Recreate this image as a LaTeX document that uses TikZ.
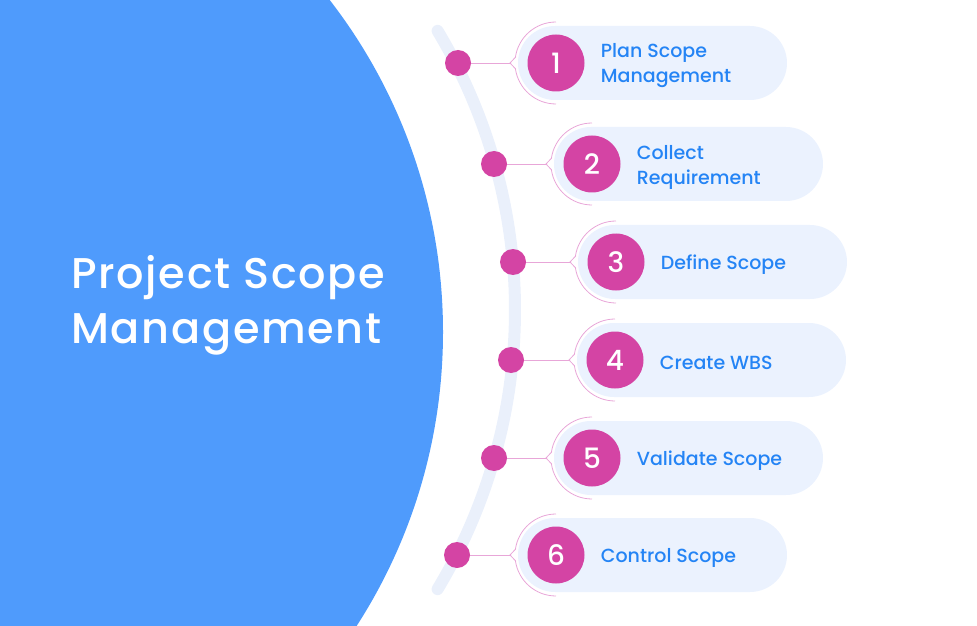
\documentclass[tikz,border=0pt]{standalone}
\usepackage{fontspec}
\setmainfont{Poppins Medium}
\usetikzlibrary{positioning}
\definecolor{scopeblue}{HTML}{4F9BFC}
\definecolor{stepmag}{HTML}{D444A4}
\definecolor{steptext}{HTML}{2484F5}
\definecolor{pillfill}{HTML}{EBF2FE}
\definecolor{trackfill}{HTML}{EAF0FB}
\definecolor{braceline}{HTML}{E8A6D8}

\begin{document}
\begin{tikzpicture}[
    x=1pt, y=1pt,
    dot/.style={circle, fill=stepmag, minimum size=26pt, inner sep=0pt},
    numbox/.style={circle, fill=stepmag, minimum size=57pt, inner sep=0pt, text=white, font=\fontsize{28}{28}\selectfont},
    steplabel/.style={text=steptext, align=left, inner sep=0pt, font=\fontsize{19}{25}\selectfont},
    pill/.style={fill=pillfill, rounded corners=37pt},
    brace/.style={draw=braceline, line width=0.8pt},
    link/.style={draw=braceline, line width=0.8pt},
    track/.style={draw=trackfill, line width=12pt, line cap=round}
  ]
    \useasboundingbox (0,0) rectangle (977,625);

    % big half disc
    \begin{scope}
      \clip (0,0) rectangle (977,625);
      \fill[scopeblue] (-100,293) circle (543);
    \end{scope}
    \node[anchor=west, text=white, align=left, inner sep=0pt,
      font=\fontsize{43}{55}\selectfont\addfontfeature{LetterSpace=4}] (title) at (71,320) {Project Scope\\Management};

    % curved track
    \draw[track] (-27,315) ++(31:542) arc[start angle=31, end angle=-31, radius=542];

    % steps
    \foreach \i/\x/\y/\d/\t in {1/556/562/458/{Plan Scope\\Management},
                                2/592/461/494/{Collect\\Requirement},
                                3/616/363/513/{Define Scope},
                                4/615/265/511/{Create WBS},
                                5/592/167/494/{Validate Scope},
                                6/556/70/457/{Control Scope}}{
      \fill[pill] (\x-38,\y-37) rectangle (\x+231,\y+37);
      \draw[brace] (\x,\y+41) arc[start angle=90, end angle=172, radius=41]
        -- (\x-46,\y) coordinate (tip\i)
        -- ++(5.4,-5.7) arc[start angle=188, end angle=270, radius=41];
      \node[dot] (d\i) at (\d,\y) {};
      \node[numbox] (n\i) at (\x,\y) {\i};
      \node[steplabel, anchor=west, right=16pt of n\i, yshift=-3pt] (t\i) {\t};
      \draw[link] (d\i) -- (tip\i);
    }
\end{tikzpicture}
\end{document}
